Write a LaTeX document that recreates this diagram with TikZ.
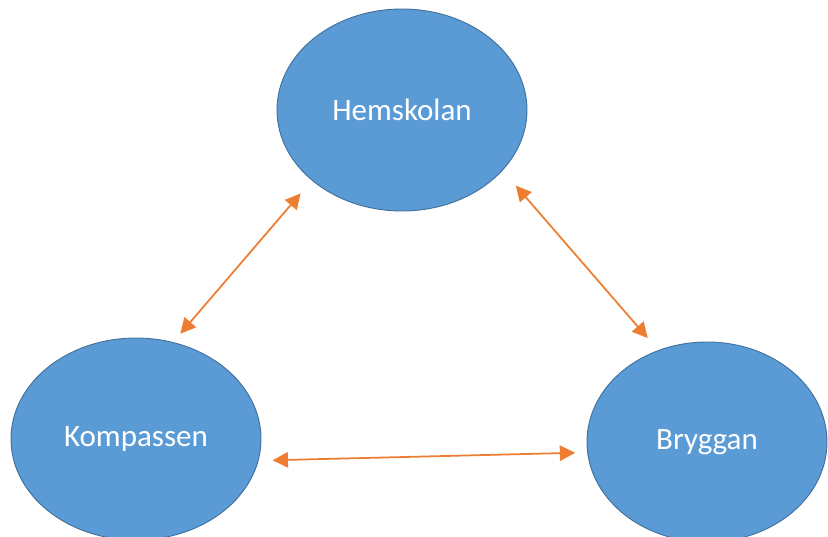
\documentclass[tikz,border=0pt]{standalone}
\usepackage{fontspec}
\setmainfont{Carlito}
\usetikzlibrary{shapes.geometric,positioning,arrows.meta}

\definecolor{blobfill}{HTML}{5B9BD5}
\definecolor{blobline}{HTML}{41719C}
\definecolor{linkcol}{HTML}{ED7D31}

\tikzset{
  blob/.style={ellipse, fill=blobfill, draw=blobline, line width=0.8pt,
    minimum width=7.5cm, minimum height=6.06cm, text=white,
    font=\fontsize{26.5}{30}\selectfont},
  link/.style={draw=linkcol, line width=1.5pt,
    {Triangle[length=0.46cm,width=0.46cm]}-{Triangle[length=0.46cm,width=0.46cm]}}
}

\begin{document}
\begin{tikzpicture}[on grid]
      \useasboundingbox (0,0) rectangle (24.84,-16.11);
      \clip (0,0) rectangle (24.84,-16.11);
      \node[blob] (hem) at (12.06,-3.3) {Hemskolan};
      \node[blob, below left=9.87cm and 7.98cm of hem] (komp) {Kompassen};
      \node[blob, minimum width=7.2cm, minimum height=6cm,
        below right=9.96cm and 9.15cm of hem] (bryg) {Bryggan};

      \draw[link, shorten <=0.51cm, shorten >=0.33cm] (hem.218) -- (komp.69);
      \draw[link, shorten <=0.6cm, shorten >=0.48cm] (hem.329) -- (bryg.118);
      \draw[link, shorten <=0.42cm, shorten >=0.36cm] (komp.350) -- (bryg.185);
    \end{tikzpicture}
\end{document}
